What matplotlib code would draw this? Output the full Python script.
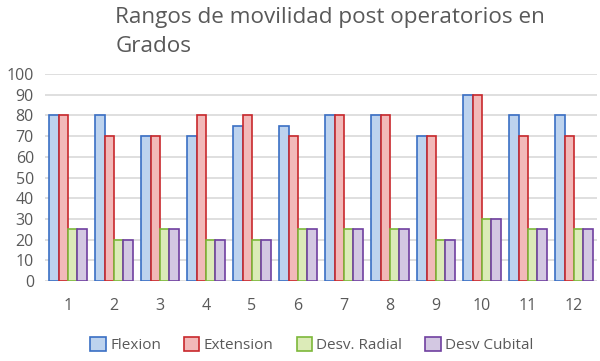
import matplotlib
matplotlib.use("Agg")
import matplotlib.pyplot as plt
import numpy as np
from matplotlib.patches import Patch

categories = ["1", "2", "3", "4", "5", "6", "7", "8", "9", "10", "11", "12"]
flexion = [80, 80, 70, 70, 75, 75, 80, 80, 70, 90, 80, 80]
extension = [80, 70, 70, 80, 80, 70, 80, 80, 70, 90, 70, 70]
radial = [25, 20, 25, 20, 20, 25, 25, 25, 20, 30, 25, 25]
cubital = [25, 20, 25, 20, 20, 25, 25, 25, 20, 30, 25, 25]
series_names = ["Flexion", "Extension", "Desv. Radial", "Desv Cubital"]
yticks = [0, 10, 20, 30, 40, 50, 60, 70, 80, 90, 100]

fills = ["#BDD3EE", "#F2B9B9", "#DCEBB8", "#D3C8E2"]
edges = ["#3A6FC4", "#C8282C", "#7DB83A", "#7040A0"]

plt.rcParams['font.family'] = ['Open Sans', 'DejaVu Sans']
fig = plt.figure(figsize=(6.0, 3.61), dpi=100)
ax = fig.add_axes([0.075, 0.2216, 0.92, 0.5734])

x = np.arange(len(categories))
w = 0.205
data = [flexion, extension, radial, cubital]
for i, vals in enumerate(data):
    ax.bar(x + (i - 1.5) * w, vals, width=w, color=fills[i], edgecolor=edges[i],
           linewidth=1.2, zorder=3)

ax.set_ylim(0, 100)
ax.set_xlim(-0.5, len(categories) - 0.5)
ax.set_yticks(yticks)
ax.set_yticklabels([str(t) for t in yticks])
ax.set_xticks(x)
ax.set_xticklabels(categories)
ax.grid(axis='y', color='#D9D9D9', linewidth=1.2, zorder=0)
for s in ax.spines.values():
    s.set_visible(False)
ax.tick_params(axis='both', length=0, labelsize=11.5, colors='#595959')
ax.tick_params(axis='x', pad=12)
ax.tick_params(axis='y', pad=8)

fig.text(0.192, 0.912, "Rangos de movilidad post operatorios en\nGrados",
         fontsize=16.2, color='#595959', ha='left', va='center', linespacing=1.48)

handles = [Patch(facecolor=fills[i], edgecolor=edges[i], linewidth=1.2) for i in range(4)]
fig.legend(handles, series_names, loc='center', bbox_to_anchor=(0.52, 0.044), ncol=4,
           frameon=False, fontsize=11, labelcolor='#595959', handlelength=1.0,
           handleheight=1.0, handletextpad=0.3, columnspacing=1.5)

fig.savefig("out.png", dpi=100)
